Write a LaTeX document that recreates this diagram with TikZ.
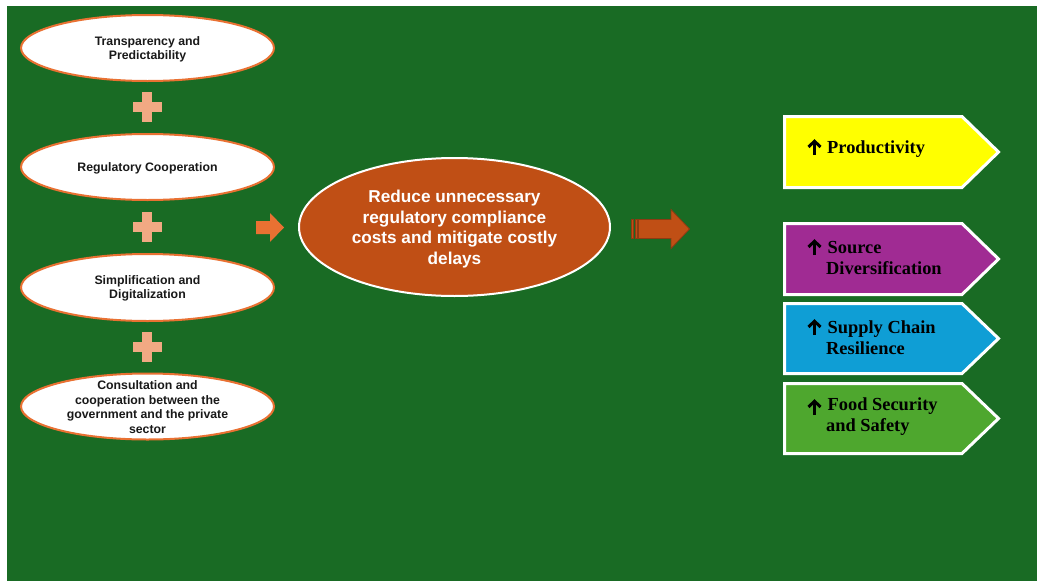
\documentclass[tikz,border=0pt]{standalone}
\usepackage{fontspec}
\setmainfont{Liberation Serif}
\setsansfont{Liberation Sans}
\usetikzlibrary{shapes.geometric}
\definecolor{bggreen}{HTML}{196B24}
\definecolor{eorange}{HTML}{E97132}
\definecolor{cfill}{HTML}{C04F15}
\definecolor{plusc}{HTML}{F1A983}
\definecolor{darr}{HTML}{8E3A12}
\definecolor{pyellow}{HTML}{FFFF00}
\definecolor{ppurple}{HTML}{A02B93}
\definecolor{pblue}{HTML}{0F9ED5}
\definecolor{pgreen}{HTML}{4EA72E}
\tikzset{
  leftell/.style={ellipse, draw=eorange, line width=2pt, fill=white, minimum width=253pt, minimum height=66pt, inner sep=0pt},
  lefttxt/.style={align=center, text=black!90, font=\sffamily\bfseries\fontsize{12.3}{14.3}\selectfont, inner sep=0pt},
  centell/.style={ellipse, draw=white, line width=2pt, fill=cfill, minimum width=311pt, minimum height=138pt, inner sep=0pt},
  centtxt/.style={align=center, text=white, font=\sffamily\bfseries\fontsize{17.2}{20.8}\selectfont, inner sep=0pt},
  pent/.style={draw=white, line width=3pt, line join=miter},
  ptxt/.style={align=left, anchor=west, text=black, font=\rmfamily\bfseries\fontsize{18.4}{21}\selectfont, inner sep=0pt},
  uparrow/.style={draw=black, line width=3pt, line join=miter},
  plussign/.style={fill=plusc}
}
\newcommand{\plusat}[2]{%
  \fill[plussign] (#1-5,#2-15) rectangle (#1+5,#2+15);
  \fill[plussign] (#1-14.5,#2-5) rectangle (#1+14.5,#2+5);}
\newcommand{\uparrat}[2]{%
  \draw[uparrow] (#1,#2+7.5) -- (#1,#2-5.5);
  \draw[uparrow] (#1-6,#2-0.5) -- (#1,#2-6.3) -- (#1+6,#2-0.5);}
\begin{document}
\begin{tikzpicture}[x=1pt,y=-1pt]
\useasboundingbox (0,0) rectangle (1037,581);
\fill[white] (0,0) rectangle (1037,581);
\fill[bggreen] (7,6) rectangle (1037,581);

% left ellipses
\node[leftell] (e1) at (147.5,48) {};
\node[lefttxt] (t1) at (147.5,49) {Transparency and\\Predictability};
\node[leftell] (e2) at (147.5,167) {};
\node[lefttxt] (t2) at (147.5,168) {Regulatory Cooperation};
\node[leftell, minimum height=67pt] (e3) at (147.5,287.5) {};
\node[lefttxt] (t3) at (147.5,288.5) {Simplification and\\Digitalization};
\node[leftell] (e4) at (147.5,406.5) {};
\node[lefttxt, font=\sffamily\bfseries\fontsize{12.3}{14.6}\selectfont] (t4) at (147.5,407) {Consultation and\\cooperation between the\\government and the private\\sector};

% plus signs
\plusat{147}{107}
\plusat{147}{227}
\plusat{147}{347}

% small arrow
\fill[eorange] (256,221) -- (270,221) -- (270,213) -- (284,227.5) -- (270,242) -- (270,234) -- (256,234) -- cycle;

% central ellipse
\node[centell] (c) at (454.5,227) {};
\node[centtxt] (ct) at (454.5,229) {Reduce unnecessary\\regulatory compliance\\costs and mitigate costly\\delays};

% striped arrow
\filldraw[fill=cfill, draw=darr, line width=0.8pt] (631.5,219.5) rectangle (633.5,238.5);
\filldraw[fill=cfill, draw=darr, line width=0.8pt] (635,219.5) rectangle (637,238.5);
\filldraw[fill=cfill, draw=darr, line width=0.8pt] (638.5,219.5) -- (671,219.5) -- (671,209.5) -- (689.5,229) -- (671,248.5) -- (671,238.5) -- (638.5,238.5) -- cycle;

% pentagons
\draw[pent, fill=pyellow] (784.5,116.5) -- (962,116.5) -- (998.5,152) -- (962,187.5) -- (784.5,187.5) -- cycle;
\uparrat{814.5}{147.5}
\node[ptxt] (p1) at (827,149) {Productivity};

\draw[pent, fill=ppurple] (784.5,223.5) -- (962,223.5) -- (998.5,259) -- (962,294.5) -- (784.5,294.5) -- cycle;
\uparrat{814.5}{247.5}
\node[ptxt] (p2) at (826,258) {\hspace*{1.5pt}Source\\Diversification};

\draw[pent, fill=pblue] (784.5,303.5) -- (962,303.5) -- (998.5,338.5) -- (962,373.5) -- (784.5,373.5) -- cycle;
\uparrat{814.5}{327.5}
\node[ptxt] (p3) at (826,338) {\hspace*{1.5pt}Supply Chain\\Resilience};

\draw[pent, fill=pgreen] (784.5,383.5) -- (962,383.5) -- (998.5,418.5) -- (962,453.5) -- (784.5,453.5) -- cycle;
\uparrat{814.5}{407.5}
\node[ptxt] (p4) at (826,417) {\hspace*{1.5pt}Food Security\\and Safety};
\end{tikzpicture}
\end{document}
